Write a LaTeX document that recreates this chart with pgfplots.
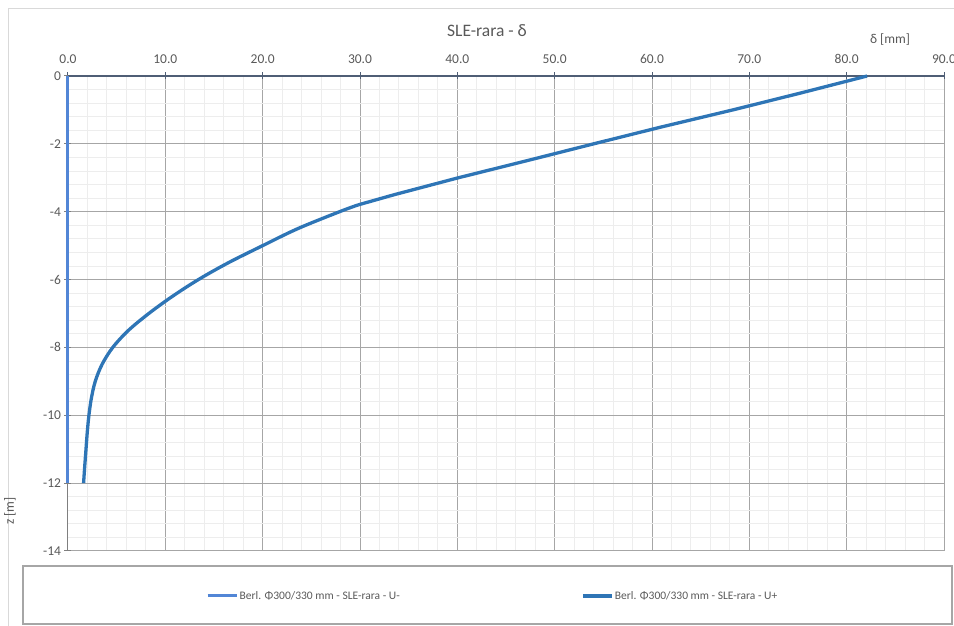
\documentclass[border=0pt]{standalone}
\usepackage{pgfplots}
\pgfplotsset{compat=1.18}
\usepackage{fontspec}
\setmainfont{Carlito}
\definecolor{txt}{HTML}{595959}
\definecolor{majgrid}{HTML}{A6A6A6}
\definecolor{mingrid}{HTML}{EDEDED}
\definecolor{topax}{HTML}{4F5E75}
\definecolor{leftax}{HTML}{7F7F7F}
\definecolor{uminus}{HTML}{5286D6}
\definecolor{uplus}{HTML}{2E75B6}
\definecolor{legbox}{HTML}{A6A6A6}
\definecolor{outer}{HTML}{D9D9D9}
\begin{document}
\begin{tikzpicture}[x=1pt,y=1pt]
\useasboundingbox (0,0) rectangle (954,626);
\draw[outer, line width=1pt] (8.5,-2) -- (8.5,617.5) -- (956,617.5);
\begin{axis}[
  at={(68pt,75pt)}, anchor=south west,
  scale only axis, width=876pt, height=475pt,
  xmin=0, xmax=90, ymin=-14, ymax=0,
  axis x line*=top, axis y line*=left,
  xtick={0,10,...,90}, ytick={0,-2,...,-14},
  minor x tick num=4, minor y tick num=4,
  grid=both,
  major grid style={draw=majgrid, line width=1pt},
  minor grid style={draw=mingrid, line width=0.9pt},
  tick align=center, major tick length=7pt, minor tick length=0pt,
  x axis line style={draw=topax, line width=1.4pt, -},
  y axis line style={draw=leftax, line width=1pt, -},
  xtick style={draw=topax, line width=1pt},
  ytick style={draw=leftax, line width=1pt},
  ticklabel style={font=\fontsize{13.5}{15}\selectfont, text=txt},
  /pgf/number format/assume math mode=true,
  xticklabel style={yshift=5.5pt, /pgf/number format/.cd, fixed, fixed zerofill, precision=1},
  legend style={at={(axis description cs:0.1575,-0.0947)}, anchor=west,
    draw=none, fill=none, inner sep=0pt,
    font=\fontsize{11.5}{13}\selectfont, text=txt,
    nodes={inner sep=1.5pt},
    /tikz/every odd column/.append style={column sep=0pt}},
  legend columns=2,
  legend image code/.code={\draw[#1] (0pt,0pt) -- (29pt,0pt);},
  clip=false,
]
\addplot[color=uminus, line width=3pt] coordinates {(0,0) (0,-12)};
\addlegendentry{\makebox[340pt][l]{Berl. Φ300/330 mm - SLE-rara - U-}}
\addplot[color=uplus, line width=3.3pt, line join=round] coordinates {
(82.1,0) (75.3,-0.5) (68.3,-1.0) (61.0,-1.5) (54.0,-2.0) (47.1,-2.5)
(40.1,-3.0) (33.5,-3.5) (29.8,-3.8)};
\addlegendentry{Berl. Φ300/330 mm - SLE-rara - U+}
\addplot[forget plot, color=uplus, line width=3.3pt, line join=round, smooth, tension=0.55] coordinates {
(29.8,-3.8) (27.9,-4.0) (23.6,-4.5) (20.0,-5.0)
(16.5,-5.5) (13.4,-6.0) (10.7,-6.5) (8.3,-7.0) (6.2,-7.5) (4.6,-8.0)
(3.5,-8.5) (2.8,-9.0) (2.4,-9.5) (2.15,-10.0) (1.98,-10.5) (1.85,-11.0)
(1.72,-11.5) (1.6,-12.0)};
\end{axis}
\draw[legbox, line width=1.2pt] (23,2) rectangle (952,60);
\node[font=\fontsize{17.5}{20}\selectfont, text=txt] at (487,595) {SLE-rara - δ};
\node[font=\fontsize{13.5}{15}\selectfont, text=txt] at (890,586) {δ [mm]};
\node[rotate=90, font=\fontsize{13.5}{15}\selectfont, text=txt] at (10,115) {z [m]};
\end{tikzpicture}
\end{document}
